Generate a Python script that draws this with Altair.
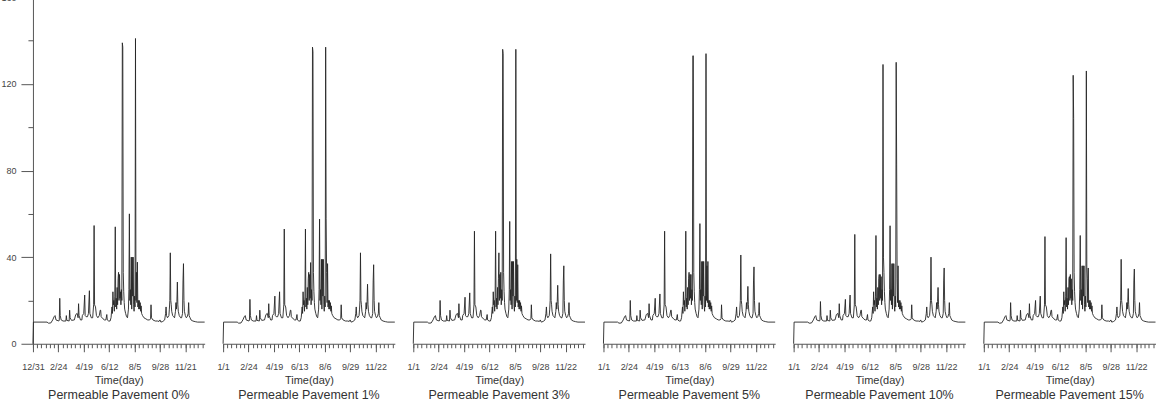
import altair as alt
import pandas as pd

# ---- data (day index, runoff value) ----
days = [0, 1, 30, 33, 38, 42, 45, 47, 49, 55, 56, 57, 58, 60, 64, 70, 71, 72, 77, 78,
        79, 82, 88, 91, 94, 96, 97, 98, 101, 104, 105, 108, 110, 111, 113, 116, 118, 120, 121, 124,
        127, 129, 130, 131, 133, 135, 138, 141, 143, 144, 145, 149, 152, 155, 157, 158, 161, 164, 166, 168,
        169, 170, 171, 172, 173, 174, 175, 176, 177, 178, 179, 180, 181, 182, 183, 184, 185, 186, 187, 188,
        189, 190, 191, 192, 193, 194, 195, 197, 199, 201, 203, 204, 205, 206, 207, 208, 209, 210, 211, 212,
        213, 214, 215, 216, 217, 218, 219, 220, 221, 222, 223, 224, 225, 226, 227, 228, 229, 230, 231, 233,
        236, 240, 244, 248, 250, 251, 252, 255, 260, 265, 268, 270, 272, 276, 280, 282, 283, 284, 286, 289,
        290, 291, 292, 293, 294, 295, 297, 299, 301, 303, 304, 305, 306, 307, 308, 309, 311, 314, 316, 318,
        319, 320, 321, 322, 324, 326, 328, 330, 331, 332, 334, 336, 340, 345, 350, 365]

base_values = [0, 10, 10, 9.5, 9.6, 11, 12.5, 13, 11, 10.5, 11, 21, 13, 11, 10.5, 10.5, 13, 10.8, 10.5, 15.5,
               12, 10.8, 11, 13.5, 14, 12, 18.5, 13, 11, 11, 13, 14, 22.5, 13, 12.5, 12.5, 14, 24.5, 14, 12,
               12, 18, 54.6, 18, 17, 13, 12, 13, 15.5, 15.5, 12.5, 11.5, 11, 11, 13.5, 11, 10.5, 10.5, 12, 17,
               14, 24, 18, 20, 15, 22, 54, 17, 21, 16, 26, 18, 30, 33, 20, 32, 21, 24, 18, 25,
               20, 139, 137, 33, 24, 19, 16, 14, 12.5, 12, 16, 25, 60, 20, 25, 18, 40, 16, 40, 22,
               40, 18, 15, 22, 17, 141, 20, 33, 19, 37.7, 17, 20, 16, 20, 16, 19, 15, 17.5, 14, 13,
               12, 11.5, 11, 11, 11.5, 18, 12, 11, 10.5, 10.5, 10.3, 11, 10, 10.3, 11, 14, 17, 13, 12, 13,
               16, 20, 42, 20, 18, 15, 13, 12.5, 12, 15, 19, 16, 19.5, 28.5, 18, 15, 13, 12, 12, 14,
               29, 37, 20, 15, 13, 12, 12.5, 14, 19, 13, 12, 11, 10.5, 10.2, 10, 10]

# peak values that differ between the scenarios
peak_days = [57, 110, 120, 130, 175, 182, 186, 190, 191, 205, 209, 211, 213, 218, 219, 220, 222, 292, 307, 320]
peaks_0 = [21, 22.5, 24.5, 54.6, 54, 33, 24, 139, 137, 60, 40, 40, 40, 141, 20, 33, 37.7, 42, 28.5, 37]
peaks_1 = [20.5, 22, 24, 53, 53, 33, 37.5, 137, 135, 57.6, 39, 39, 39, 137, 58, 33, 37, 42, 27.5, 36.5]
peaks_3 = [20, 21.5, 23.5, 52, 52, 42, 33, 136, 134, 56.5, 38, 38, 38, 136, 20, 39, 36.5, 41.5, 27, 36]
peaks_5 = [20, 21, 23, 52, 52, 33, 32, 133, 133, 55.5, 38, 38, 38, 134, 20, 36, 38, 41, 26.5, 35.5]
peaks_10 = [19.5, 20.5, 22.5, 50.5, 50, 32, 31, 129, 40, 54.5, 37, 37, 37, 130, 83, 30, 36, 40, 26, 35]
peaks_15 = [19, 20, 22, 49.5, 49, 31, 30, 124, 104, 50, 36, 36, 36, 126, 35, 30, 35, 39, 25.5, 34.5]

scenarios = ["0%", "1%", "3%", "5%", "10%", "15%"]
scenario_peaks = [peaks_0, peaks_1, peaks_3, peaks_5, peaks_10, peaks_15]

major_ticks = [0, 54, 108, 162, 216, 270, 324]
minor_ticks = [0, 9, 18, 27, 36, 45, 54, 63, 72, 81, 90, 99, 108, 117, 126, 135, 144, 153, 162, 171,
               180, 189, 198, 207, 216, 225, 234, 243, 252, 261, 270, 279, 288, 297, 306, 315, 324,
               333, 342, 351, 360]
tick_labels = [
    ["12/31", "2/24", "4/19", "6/12", "8/5", "9/28", "11/21"],
    ["1/1", "2/24", "4/19", "6/13", "8/6", "9/29", "11/22"],
    ["1/1", "2/24", "4/19", "6/12", "8/5", "9/28", "11/22"],
    ["1/1", "2/24", "4/19", "6/13", "8/6", "9/29", "11/22"],
    ["1/1", "2/24", "4/19", "6/12", "8/5", "9/28", "11/22"],
    ["1/1", "2/24", "4/19", "6/12", "8/5", "9/28", "11/22"],
]
y_major = [0, 40, 80, 120, 160]
y_minor = [20, 60, 100, 140]

FONT = "Liberation Sans"
LINE = "#262626"
AX = "#555555"


def panel_frame(peaks):
    vals = dict(zip(days, base_values))
    for d, v in zip(peak_days, peaks):
        vals[d] = v
    return pd.DataFrame({"day": list(vals.keys()), "value": list(vals.values())}).sort_values("day")


def make_panel(i):
    df = panel_frame(scenario_peaks[i])
    xs = alt.Scale(domain=[0, 365], nice=False, zero=False)
    ys = alt.Scale(domain=[0, 160], nice=False)
    expr = "[" + ",".join("'%s'" % t for t in tick_labels[i]) + "][round(datum.value / 54)]"
    x_axis = alt.Axis(values=major_ticks, tickSize=8, labelExpr=expr, title="Time(day)",
                      orient="bottom", grid=False, labelPadding=11, titlePadding=3,
                      labelFontSize=9, titleFontSize=11, labelFont=FONT, titleFont=FONT,
                      labelColor="#444444", titleColor="#333333", titleFontWeight="normal",
                      domainColor=AX, tickColor=AX, labelFlush=False, labelOverlap=False)
    x_minor = alt.Axis(values=minor_ticks, tickSize=4, labels=False, domain=False, title=None,
                       orient="bottom", grid=False, tickColor=AX)
    if i == 0:
        y_axis = alt.Axis(values=y_major, tickSize=12, orient="left", grid=False, title=None,
                          labelPadding=5, labelFontSize=9, labelFont=FONT, labelColor="#444444",
                          domainColor=AX, tickColor=AX, labelFlush=False, labelOverlap=False)
        y_min = alt.Axis(values=y_minor, tickSize=5, labels=False, domain=False, title=None,
                         orient="left", grid=False, tickColor=AX)
    else:
        y_axis = None
        y_min = None
    main = alt.Chart(df).mark_line(color=LINE, strokeWidth=0.9).encode(
        x=alt.X("day:Q", scale=xs, axis=x_axis),
        y=alt.Y("value:Q", scale=ys, axis=y_axis),
    )
    minor = alt.Chart(df).mark_line(opacity=0).encode(
        x=alt.X("day:Q", scale=xs, axis=x_minor),
        y=alt.Y("value:Q", scale=ys, axis=y_min),
    )
    return alt.layer(main, minor).resolve_axis(x="independent", y="independent").properties(
        width=172, height=347,
        title=alt.TitleParams("Permeable Pavement " + scenarios[i], orient="bottom", anchor="middle",
                              frame="group", fontSize=12.5, font=FONT, fontWeight="normal",
                              color="#333333", offset=3.5),
    )


chart = alt.hconcat(*[make_panel(i) for i in range(6)], spacing=18.5, bounds="flush").properties(
    padding={"left": 0, "top": -7, "right": 0, "bottom": 0}
).configure_view(stroke=None)

chart.save("out.html", embed_options={"renderer": "svg", "actions": False})
